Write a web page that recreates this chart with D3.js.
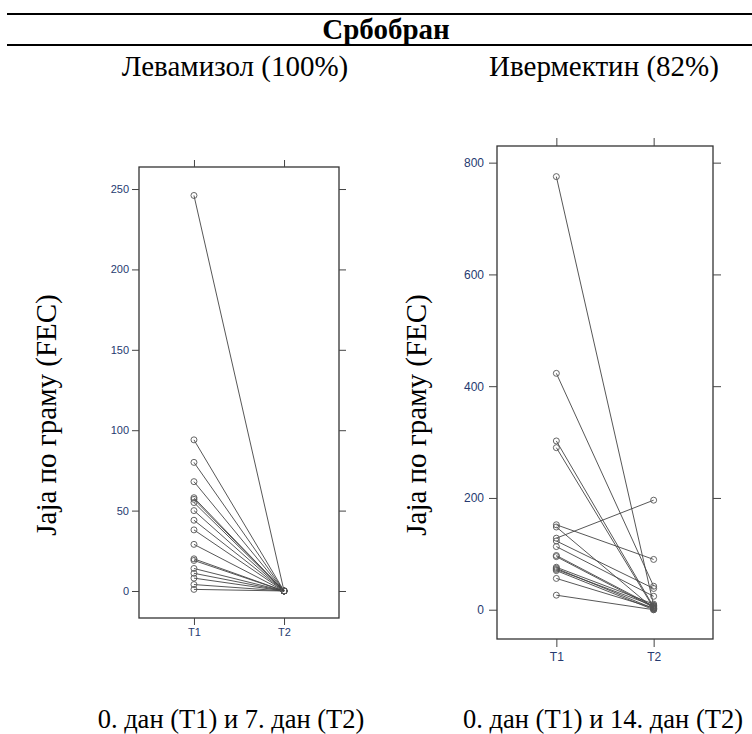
<!DOCTYPE html>
<html>
<head>
<meta charset="utf-8">
<script src="https://cdn.jsdelivr.net/npm/d3@7"></script>
<style>
  body { margin: 0; background: #fff; }
  svg { display: block; }
</style>
</head>
<body>
<script>
// Levamisole, FEC at day 0 (T1) and day 7 (T2)
var levT1 = [246, 94, 80, 68, 58, 57, 55, 50, 44, 38, 29, 20, 19, 14, 11, 8, 4, 1];
var levT2 = [0, 0, 0, 0, 0, 0, 0, 0, 0, 0, 0, 0, 0, 0, 0, 0, 0, 0];
var levTicks = [0, 50, 100, 150, 200, 250];

// Ivermectin, FEC at day 0 (T1) and day 14 (T2)
var ivT1 = [775, 423, 302, 290, 152, 148, 128, 123, 113, 97, 95, 76, 74, 72, 70, 56, 26];
var ivT2 = [8, 42, 5, 3, 90, 2, 196, 38, 24, 6, 4, 10, 2, 7, 0, 3, 0];
var ivTicks = [0, 200, 400, 600, 800];

var times = ["T1", "T2"];

var width = 752, height = 734;
var serif = "'Liberation Serif', 'DejaVu Serif', serif";
var sans = "'Liberation Sans', Arial, sans-serif";

var svg = d3.select("body").append("svg")
	.attr("width", width)
	.attr("height", height);

// header rules and titles
svg.append("line").attr("x1", 7).attr("x2", 752).attr("y1", 14).attr("y2", 14)
	.attr("stroke", "#000").attr("stroke-width", 2);
svg.append("line").attr("x1", 7).attr("x2", 752).attr("y1", 45).attr("y2", 45)
	.attr("stroke", "#000").attr("stroke-width", 2);
svg.append("text")
	.attr("x", 386).attr("y", 39)
	.attr("text-anchor", "middle")
	.style("font-family", serif)
	.style("font-size", "29px").style("font-weight", "bold")
	.text("Србобран");

function drawPanel(cfg) {
	var x = d3.scalePoint()
		.domain(times)
		.range([cfg.left, cfg.right])
		.padding(0.61);

	var y = d3.scaleLinear()
		.domain(cfg.domain)
		.range([cfg.bottom, cfg.top]);

	var g = svg.append("g");

	// subtitle above the panel
	svg.append("text")
		.attr("x", cfg.titleX).attr("y", 76)
		.attr("text-anchor", "middle")
		.style("font-family", serif)
		.style("font-size", "29px")
		.text(cfg.title);

	// y axis title
	svg.append("text")
		.attr("transform", "translate(" + cfg.yTitleX + "," + 415 + ") rotate(-90)")
		.attr("text-anchor", "middle")
		.style("font-family", serif)
		.style("font-size", "29px")
		.text("Јаја по граму (FEC)");

	// x axis caption under the panel
	svg.append("text")
		.attr("x", cfg.captionX).attr("y", 728)
		.attr("text-anchor", "middle")
		.style("font-family", serif)
		.style("font-size", "26.5px")
		.text(cfg.caption);

	// box
	g.append("rect")
		.attr("x", cfg.left).attr("y", cfg.top)
		.attr("width", cfg.right - cfg.left)
		.attr("height", cfg.bottom - cfg.top)
		.attr("fill", "none")
		.attr("stroke", "#333")
		.attr("stroke-width", 1.3);

	g.append("g")
		.attr("transform", "translate(" + cfg.left + ",0)")
		.call(d3.axisLeft(y).tickValues(cfg.ticks).tickSize(cfg.tick).tickPadding(cfg.pad));

	g.append("g")
		.attr("transform", "translate(" + cfg.right + ",0)")
		.call(d3.axisRight(y).tickValues(cfg.ticks).tickSize(cfg.tick).tickFormat(""));

	g.append("g")
		.attr("transform", "translate(0," + cfg.bottom + ")")
		.call(d3.axisBottom(x).tickSize(cfg.tick).tickPadding(cfg.pad));

	g.append("g")
		.attr("transform", "translate(0," + cfg.top + ")")
		.call(d3.axisTop(x).tickSize(cfg.tick).tickFormat(""));

	g.selectAll(".domain").remove();
	g.selectAll(".tick line").attr("stroke", "#444");
	g.selectAll(".tick text")
		.style("font-family", sans)
		.style("font-size", cfg.fs + "px")
		.attr("fill", "#263a70");

	// paired lines T1 -> T2
	g.selectAll(".pair")
		.data(cfg.t1)
		.enter().append("line")
		.attr("class", "pair")
		.attr("x1", x("T1"))
		.attr("y1", function(d) { return y(d); })
		.attr("x2", x("T2"))
		.attr("y2", function(d, i) { return y(cfg.t2[i]); })
		.attr("stroke", "#444")
		.attr("stroke-width", 0.9);

	var pts = [];
	for (var i = 0; i < cfg.t1.length; i++) {
		pts.push({t: "T1", v: cfg.t1[i]});
		pts.push({t: "T2", v: cfg.t2[i]});
	}
	g.selectAll(".pt")
		.data(pts)
		.enter().append("circle")
		.attr("class", "pt")
		.attr("cx", function(d) { return x(d.t); })
		.attr("cy", function(d) { return y(d.v); })
		.attr("r", 3)
		.attr("fill", "none")
		.attr("stroke", "#555")
		.attr("stroke-width", 0.9);
}

drawPanel({
	left: 139, right: 339, top: 167, bottom: 618,
	domain: [-16.8, 263.7],
	ticks: levTicks,
	t1: levT1, t2: levT2,
	tick: 7, pad: 3, fs: 11,
	title: "Левамизол (100%)", titleX: 235, yTitleX: 56,
	caption: "0. дан (Т1) и 7. дан (Т2)", captionX: 231
});

drawPanel({
	left: 497, right: 713, top: 146, bottom: 639,
	domain: [-52.4, 829.8],
	ticks: ivTicks,
	t1: ivT1, t2: ivT2,
	tick: 8, pad: 5, fs: 12,
	title: "Ивермектин (82%)", titleX: 604, yTitleX: 426,
	caption: "0. дан (Т1) и 14. дан (Т2)", captionX: 603
});
</script>
</body>
</html>
